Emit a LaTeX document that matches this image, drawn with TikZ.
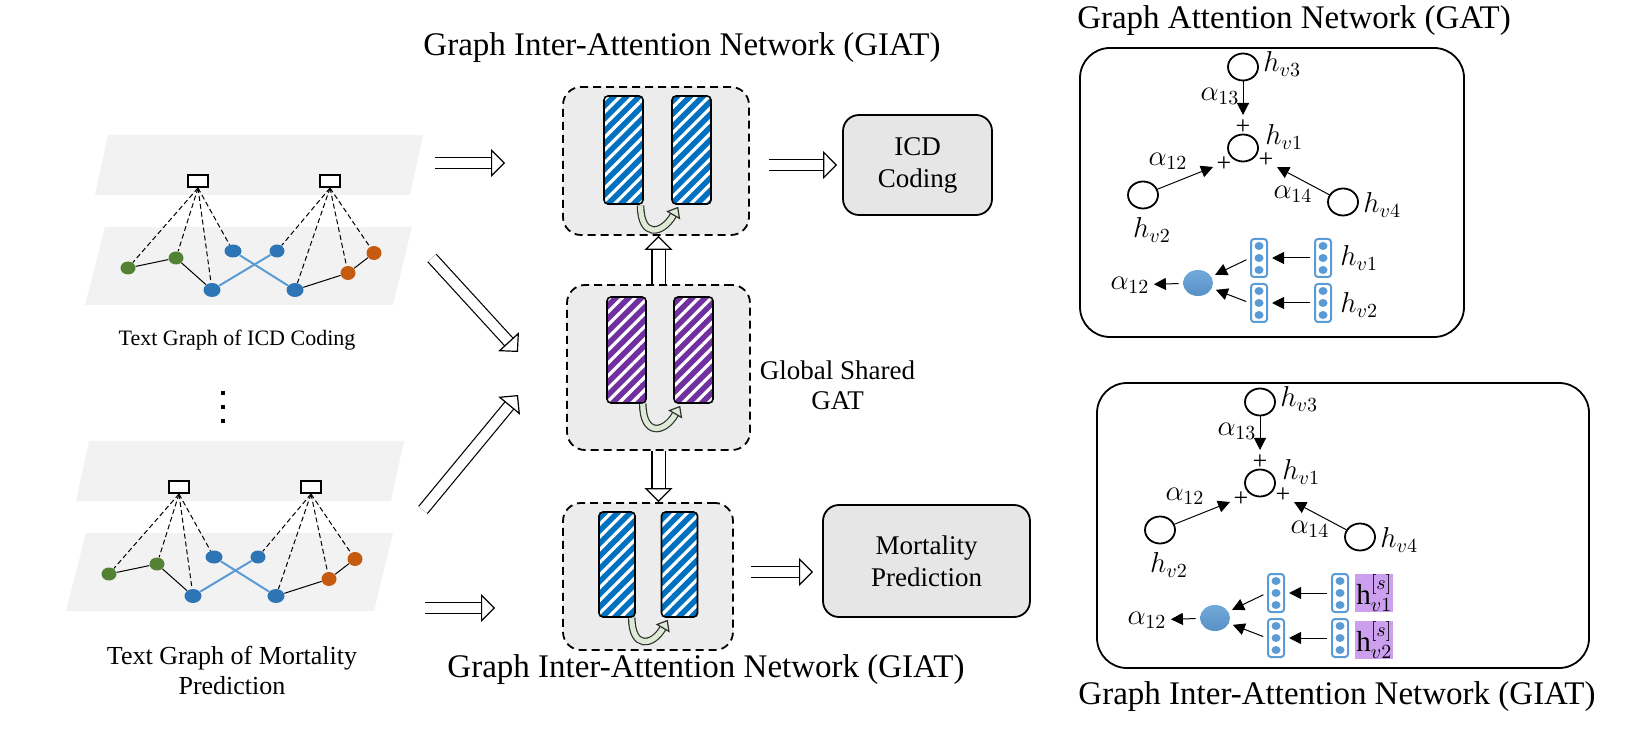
\documentclass[tikz,border=0pt]{standalone}
\usepackage{fontspec}
\setmainfont{Liberation Serif}
\usepackage{tikz}
\usetikzlibrary{positioning, shapes, calc, arrows.meta, patterns.meta}

\definecolor{planegray}{RGB}{242,242,242}
\definecolor{boxgray}{RGB}{236,236,236}
\definecolor{taskgray}{RGB}{230,230,230}
\definecolor{nblue}{RGB}{46,117,182}
\definecolor{ngreen}{RGB}{84,130,53}
\definecolor{norange}{RGB}{197,90,17}
\definecolor{edgeblue}{RGB}{91,155,213}
\definecolor{barblue}{RGB}{0,112,192}
\definecolor{barpurple}{RGB}{112,48,160}
\definecolor{curlfill}{RGB}{222,234,214}
\definecolor{curldark}{RGB}{45,50,45}
\definecolor{hlpurple}{RGB}{204,160,238}

\begin{document}
\begin{tikzpicture}
        [
            x=0.5pt, y=-0.5pt,
            plane/.style={fill=planegray},
            doc/.style={draw, line width=1pt, fill=white, minimum width=10pt,
                        minimum height=6pt, inner sep=0pt},
            gnode/.style={ellipse, fill=#1, minimum width=8.5pt,
                          minimum height=7pt, inner sep=0pt},
            tlink/.style={line width=0.5pt},
            dlink/.style={line width=0.5pt, dash pattern=on 2.5pt off 1.5pt},
            blink/.style={line width=1pt, draw=edgeblue},
            giat/.style={draw, line width=0.9pt, dash pattern=on 4pt off 2.5pt,
                         fill=boxgray, rounded corners=9pt},
            bar/.style={draw, line width=0.8pt, rounded corners=2pt,
                        minimum width=19.5pt, minimum height=54pt, inner sep=0pt,
                        preaction={fill=#1},
                        pattern={Lines[angle=45, distance=4.5pt, line width=1.6pt]},
                        pattern color=white},
            curl/.style={draw=curldark, line width=0.6pt, double=curlfill,
                         double distance=2.6pt,
                         -{Triangle[length=5pt, width=8pt, fill=curlfill, line width=0.6pt]}},
            barrow/.style={draw, line width=0.6pt, double=white, double distance=5pt,
                           -{Triangle[length=7pt, width=14pt, fill=white, line width=0.6pt]}},
            task/.style={draw, line width=0.9pt, fill=taskgray, rounded corners=8pt,
                         align=center, font=\fontsize{13.5}{16}\selectfont},
            title/.style={font=\fontsize{16.5}{19}\selectfont},
            caption/.style={font=\fontsize{11}{15}\selectfont, align=center},
            panel/.style={draw, line width=0.9pt, rounded corners=15pt},
            hnode/.style={ellipse, draw, line width=0.9pt, minimum width=15pt,
                          minimum height=13.5pt, inner sep=0pt},
            mlab/.style={font=\fontsize{14.5}{16}\selectfont, inner sep=1pt},
            hilab/.style={mlab, fill=hlpurple, inner sep=0.5pt},
            plus/.style={font=\fontsize{13}{14}\selectfont, inner sep=0pt},
            att/.style={line width=0.5pt, -{Triangle[length=6pt, width=6pt]}},
            attn/.style={ellipse, minimum width=15pt, minimum height=13pt, inner sep=0pt,
                         top color=edgeblue!85, bottom color=nblue!80},
            vicon/.pic={
                \node (-box) [draw=edgeblue, line width=1pt, fill=white, rounded corners=1.5pt,
                              minimum width=8pt, minimum height=19pt, inner sep=0pt] {};
                \foreach \k in {-12,0,12}
                    \fill[edgeblue] (0,\k) ellipse (4.5 and 4);
            }
        ]
        \useasboundingbox (0,0) rectangle (1652,742);

        % text graphs
        \foreach \g/\dx/\dy in {a/0/0, b/-19/306} {
            \begin{scope}[shift={(\dx,\dy)}]
                \fill[plane] (108,135) -- (423,135) -- (410,195) -- (95,195) -- cycle;
                \fill[plane] (105,227) -- (412,227) -- (393,305) -- (85,305) -- cycle;
                \node (\g-sl) [doc] at (198,181) {};
                \node (\g-sr) [doc] at (330,181) {};
                \node (\g-g1) [gnode=ngreen, minimum width=7.5pt, minimum height=6.5pt] at (128,268) {};
                \node (\g-g2) [gnode=ngreen, minimum width=7.5pt, minimum height=6.5pt] at (176,258) {};
                \node (\g-b1) [gnode=nblue, minimum height=6.5pt] at (233,251) {};
                \node (\g-b2) [gnode=nblue, minimum width=7.5pt, minimum height=6.5pt] at (277,251) {};
                \node (\g-b3) [gnode=nblue] at (212,290) {};
                \node (\g-b4) [gnode=nblue] at (295,290) {};
                \node (\g-o1) [gnode=norange, minimum width=7.5pt] at (348,273) {};
                \node (\g-o2) [gnode=norange, minimum width=7.5pt] at (374,253) {};
                \foreach \n in {g1,g2,b3,b1}
                    \draw[dlink] (\g-sl.south) -- (\g-\n);
                \foreach \n in {b2,b4,o1,o2}
                    \draw[dlink] (\g-sr.south) -- (\g-\n);
                \foreach \i/\j in {g1/g2,g2/b3,b4/o1,o1/o2}
                    \draw[tlink] (\g-\i) -- (\g-\j);
                \draw[blink] (\g-b3) -- (\g-b2);
                \draw[blink] (\g-b1) -- (\g-b4);
            \end{scope}
        }
        \node (cap-a) [caption] at (237,340) {Text Graph of ICD Coding};
        \node (cap-b) [caption, font=\fontsize{13}{15}\selectfont] at (232,670) {Text Graph of Mortality\\Prediction};
        \foreach \k in {391,405,419}
            \fill (221,\k) rectangle ++(4,4);

        % GIAT blocks
        \node (top) [giat, minimum width=93pt, minimum height=74pt] at (656,161) {};
        \node (mid) [giat, minimum width=91.5pt, minimum height=82.5pt] at (658.5,367.5) {};
        \node (bot) [giat, minimum width=85pt, minimum height=73.5pt] at (648,576.5) {};
        \node (top-l) [bar=barblue] at (623.5,150) {};
        \node (top-r) [bar=barblue] at (691.5,150) {};
        \node (mid-l) [bar=barpurple, minimum height=53pt] at (626.5,350) {};
        \node (mid-r) [bar=barpurple, minimum height=53pt] at (693.5,350) {};
        \node (bot-l) [bar=barblue, minimum width=18pt, minimum height=52.5pt] at (617,564.5) {};
        \node (bot-r) [bar=barblue, minimum width=18pt, minimum height=52.5pt] at (679.5,564.5) {};
        \foreach \b in {top,mid,bot}
            \draw[curl] ([xshift=-2pt]\b-l.south east) to[out=-90, in=-120, looseness=2.2]
                ([xshift=3.5pt, yshift=-1pt]\b-r.south west);

        \node (giat-t) [title] at (682,48) {Graph Inter-Attention Network (GIAT)};
        \node (giat-b) [title] at (706,670) {Graph Inter-Attention Network (GIAT)};
        \node (shared) [right=1pt of mid, yshift=-9pt, align=center,
                        font=\fontsize{13.5}{15}\selectfont] {Global Shared\\GAT};

        % tasks
        \node (icd) [task, minimum width=74.5pt, minimum height=50pt] at (917.5,165) {ICD\\Coding};
        \node (mort) [task, minimum width=103.5pt, minimum height=56pt] at (926.5,561) {Mortality\\Prediction};

        % block arrows
        \coordinate (in1) at (435,163);
        \coordinate (in2) at (432,258);
        \coordinate (in3) at (423,510);
        \coordinate (in4) at (425,608);
        \coordinate (out2) at (813,572);
        \draw[barrow] (in1) -- (505,163);
        \draw[barrow] (in2) -- (518,352);
        \draw[barrow] (in3) -- (518,395);
        \draw[barrow] (in4) -- (495,608);
        \draw[barrow, shorten <=9.5pt, shorten >=2.5pt] (top.east |- icd) -- (icd.west);
        \draw[barrow] ($(bot.east)+(17,-4.5)$) -- (out2);
        \draw[barrow, double distance=6pt] (mid.north) -- (mid.north |- top.south);
        \draw[barrow, double distance=6pt] (mid.south) -- (mid.south |- bot.north);

        % attention panels
        \node (gat) [title] at (1294,21) {Graph Attention Network (GAT)};
        \node (giat-r) [title] at (1337,697) {Graph Inter-Attention Network (GIAT)};
        \node (pan-t) [panel, minimum width=192pt, minimum height=144.5pt] at (1272,192.5) {};
        \node (pan-b) [panel, minimum width=246pt, minimum height=142.5pt] at (1343,525.5) {};
        \foreach \p/\dx/\dy/\ls/\la/\lb in {t/0/0/mlab/{$h_{v1}$}/{$h_{v2}$},
                b/17/335/hilab/{$\mathrm{h}^{[s]}_{v1}$}/{$\mathrm{h}^{[s]}_{v2}$}} {
            \begin{scope}[shift={(\dx,\dy)}]
                \node (\p-v3) [hnode] at (1243,67) {};
                \node (\p-v1) [hnode] at (1243,148) {};
                \node (\p-v2) [hnode] at (1143,195) {};
                \node (\p-v4) [hnode] at (1343,202) {};
                \node [mlab, anchor=west] at (1261,64) {$h_{v3}$};
                \node [mlab, anchor=west] at (1263,137) {$h_{v1}$};
                \node [mlab] at (1152,230) {$h_{v2}$};
                \node [mlab, anchor=west] at (1361,205) {$h_{v4}$};
                \node [plus] at (1243,127) {+};
                \node [plus] at (1224,164) {+};
                \node [plus] at (1266,160) {+};
                \coordinate (\p-t3) at (1243,115);
                \coordinate (\p-t2) at (1213,167);
                \coordinate (\p-t4) at (1277,167);
                \draw[att] (\p-v3) -- (\p-t3);
                \draw[att] (\p-v2) -- (\p-t2);
                \draw[att] (\p-v4) -- (\p-t4);
                \node [mlab] at (1220,96) {$\alpha_{13}$};
                \node [mlab] at (1168,161) {$\alpha_{12}$};
                \node [mlab] at (1293,194) {$\alpha_{14}$};
                % attention coefficient
                \pic (\p-a1) at (1259,258) {vicon};
                \pic (\p-a2) at (1259,303) {vicon};
                \pic (\p-c1) at (1323,258) {vicon};
                \pic (\p-c2) at (1323,303) {vicon};
                \node (\p-e) [attn] at (1198,283) {};
                \node (\p-al) [mlab] at (1130,285) {$\alpha_{12}$};
                \draw[att, shorten <=2pt, shorten >=2pt] (\p-c1-box) -- (\p-a1-box);
                \draw[att, shorten <=2pt, shorten >=2pt] (\p-c2-box) -- (\p-a2-box);
                \draw[att, shorten <=2pt, shorten >=2pt] (\p-a1-box.west) -- (\p-e);
                \draw[att, shorten <=2pt, shorten >=2pt] (\p-a2-box.west) -- (\p-e);
                \draw[att, shorten <=2pt, shorten >=1pt] (\p-e) -- (\p-al);
                \node [\ls, anchor=west] at (1338,258) {\la};
                \node [\ls, anchor=west] at (1338,305) {\lb};
            \end{scope}
        }
    \end{tikzpicture}
\end{document}
